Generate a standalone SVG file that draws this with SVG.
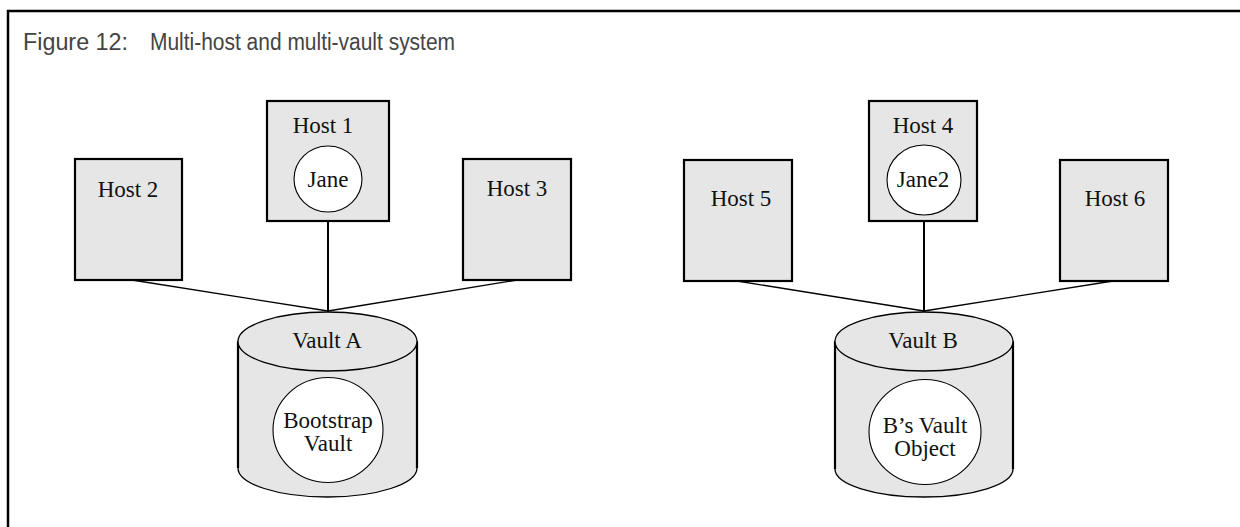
<svg xmlns="http://www.w3.org/2000/svg" width="1240" height="527" viewBox="0 0 1240 527">
<style>
.frame{fill:none;stroke:#000;stroke-width:2.5}
.title{font-family:"Liberation Sans",Arial,sans-serif;font-size:23px;fill:#444}
.box{fill:#e6e6e6;stroke:#000;stroke-width:2.2}
.inner{fill:#fff;stroke:#000;stroke-width:1.1}
.lbl{font-family:"Liberation Serif","Times New Roman",serif;font-size:23px;fill:#111;text-anchor:middle}
.cyl{fill:#e6e6e6;stroke:#000;stroke-width:1.3}
.side{stroke:#000;stroke-width:2.2;fill:none}
.wire{stroke:#000;stroke-width:1.3;fill:none}
.wire2{stroke:#000;stroke-width:2;fill:none}
</style>
<rect width="1240" height="527" fill="#fff"/>
<path class="frame" d="M8,527 V11 H1240"/>
<text class="title" x="23" y="50" textLength="105" lengthAdjust="spacingAndGlyphs">Figure 12:</text>
<text class="title" x="150" y="50" textLength="305" lengthAdjust="spacingAndGlyphs">Multi-host and multi-vault system</text>

<g id="connectors">
<line class="wire" x1="132" y1="280" x2="328" y2="311"/>
<line class="wire" x1="517" y1="280" x2="328" y2="311"/>
<line class="wire2" x1="328" y1="221" x2="328" y2="312"/>
<line class="wire" x1="737" y1="281" x2="924" y2="311"/>
<line class="wire" x1="1113" y1="281" x2="924" y2="311"/>
<line class="wire2" x1="924" y1="221" x2="924" y2="312"/>
</g>

<g id="host2">
<rect class="box" x="75" y="159" width="107" height="121"/>
<text class="lbl" x="128" y="197">Host 2</text>
</g>
<g id="host1">
<rect class="box" x="267" y="101" width="122" height="120"/>
<text class="lbl" x="323" y="133">Host 1</text>
<ellipse class="inner" cx="328" cy="179" rx="34" ry="33"/>
<text class="lbl" x="328" y="187">Jane</text>
</g>
<g id="host3">
<rect class="box" x="463" y="159" width="108" height="121"/>
<text class="lbl" x="517" y="196">Host 3</text>
</g>
<g id="vaultA">
<path class="cyl" d="M238,341.5 V468 A89.5,29 0 0 0 417,468 V341.5 Z"/>
<path class="side" d="M238,341.5 V468 M417,341.5 V468"/>
<ellipse class="cyl" cx="327.5" cy="341.5" rx="89.5" ry="29.5"/>
<text class="lbl" x="327" y="348">Vault A</text>
<ellipse class="inner" cx="328" cy="430" rx="55" ry="52.5"/>
<text class="lbl" x="328" y="428">Bootstrap</text>
<text class="lbl" x="328" y="451">Vault</text>
</g>

<g id="host5">
<rect class="box" x="684" y="160" width="108" height="121"/>
<text class="lbl" x="741" y="206">Host 5</text>
</g>
<g id="host4">
<rect class="box" x="869" y="101" width="108" height="120"/>
<text class="lbl" x="923" y="133">Host 4</text>
<ellipse class="inner" cx="924" cy="180" rx="37" ry="35"/>
<text class="lbl" x="923" y="187">Jane2</text>
</g>
<g id="host6">
<rect class="box" x="1060" y="160" width="108" height="121"/>
<text class="lbl" x="1115" y="206">Host 6</text>
</g>
<g id="vaultB">
<path class="cyl" d="M835,341.5 V469 A89,28 0 0 0 1013,469 V341.5 Z"/>
<path class="side" d="M835,341.5 V469 M1013,341.5 V469"/>
<ellipse class="cyl" cx="924" cy="341.5" rx="89" ry="29.5"/>
<text class="lbl" x="923" y="348">Vault B</text>
<ellipse class="inner" cx="925" cy="432" rx="56" ry="52.5"/>
<text class="lbl" x="925" y="433">B’s Vault</text>
<text class="lbl" x="925" y="456">Object</text>
</g>
</svg>
